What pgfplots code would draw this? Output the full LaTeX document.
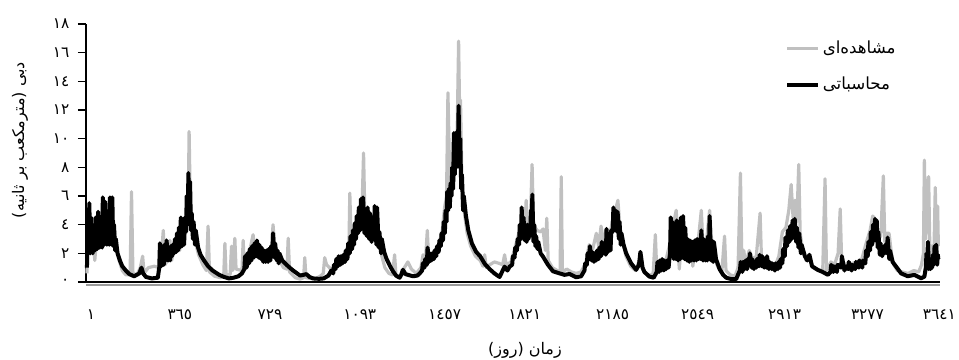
\documentclass[border=0pt]{standalone}
\usepackage{fontspec}
\usepackage{pgfplots}
\pgfplotsset{compat=1.18}
\TeXXeTstate=1
\setmainfont{DejaVu Sans}
\newfontfamily\arabicfont[Script=Arabic]{DejaVu Sans}
\definecolor{obsgray}{RGB}{192,192,192}

\begin{document}
\begin{tikzpicture}
\begin{axis}[
  at={(0,0)}, anchor=south west,
  scale only axis, width=640.5pt, height=193.5pt,
  xmin=-3, xmax=3600, ymin=0, ymax=18,
  enlargelimits=false,
  axis lines=left,
  axis line style={-, line width=1.1pt, black},
  x axis line style={line width=1.6pt},
  tick align=outside,
  major tick length=6pt,
  ytick={0,2,4,6,8,10,12,14,16,18},
  yticklabels={٠,٢,٤,٦,٨,١٠,١٢,١٤,١٦,١٨},
  xtick={18,393,773,1152,1510,1848,2219,2577,2944,3294,3597},
  xticklabels={١,٣٦٥,٧٢٩,١٠٩٣,١٤٥٧,١٨٢١,٢١٨٥,٢٥٤٩,٢٩١٣,٣٢٧٧,٣٦٤١},
  xtick style={draw=none},
  ytick style={line width=0.8pt, black},
  ticklabel style={font=\arabicfont\fontsize{11.5}{13}\selectfont},
  yticklabel style={xshift=-3pt},
  xticklabel style={yshift=-11pt},
  xlabel={\arabicfont\beginR زمان (روز)\endR},
  xlabel style={at={(axis description cs:0.514,0)}, anchor=center, yshift=-51pt, font=\fontsize{12}{14}\selectfont},
  ylabel={\arabicfont\beginR دبی (مترمکعب بر ثانیه)\endR},
  ylabel style={at={(axis description cs:0,0.55)}, anchor=center, yshift=49.5pt, font=\fontsize{12}{14}\selectfont},
  legend style={at={(0.814,0.955)}, anchor=north west, draw=none, fill=none,
    row sep=12pt, font=\arabicfont\fontsize{12.5}{14}\selectfont},
  legend cell align=left,
  legend image code/.code={\draw[#1] (0pt,0pt) -- (23pt,0pt);},
  clip=false,
]
\addplot[color=obsgray, line width=2.4pt, line join=round] coordinates {
(1,0.6) (6,3.2) (14,2.0) (24,3.6) (34,1.5) (44,3.4) (54,2.6) (64,4.3) (74,3.1) (84,4.6)
(94,3.6) (104,2.8) (114,4.2) (124,2.6) (135,1.6) (150,0.8) (165,0.5) (183,0.5) (189,6.3) (195,0.6)
(212,0.5) (226,1.0) (236,1.8) (242,0.6) (260,1.0) (285,1.1) (305,1.0) (316,2.0) (323,3.6) (330,1.2)
(345,1.6) (351,2.9) (358,1.5) (375,2.6) (392,2.2) (405,3.6) (418,3.4) (428,5.0) (432,10.5) (437,5.5)
(445,4.0) (458,2.8) (472,1.9) (490,1.2) (505,0.8) (512,3.9) (518,0.7) (540,0.4) (565,0.3) (578,0.4)
(583,2.7) (588,0.5) (605,0.5) (611,2.5) (616,0.8) (625,3.05) (630,0.9) (655,0.8) (660,2.9) (665,1.1)
(680,1.6) (702,3.3) (710,2.0) (730,2.2) (750,1.5) (765,1.8) (780,2.2) (786,4.0) (795,2.2) (810,1.6)
(830,1.0) (845,0.9) (850,3.05) (856,0.7) (880,0.3) (900,0.2) (915,0.3) (920,1.7) (925,0.3) (960,0.2)
(985,0.4) (998,0.6) (1004,1.7) (1012,1.2) (1030,0.9) (1055,1.1) (1080,1.6) (1100,2.0) (1106,2.2) (1110,6.2)
(1115,3.2) (1130,3.6) (1145,4.2) (1158,5.3) (1163,6.0) (1168,9.0) (1173,5.0) (1185,3.8) (1198,3.2) (1212,3.7)
(1222,4.8) (1232,2.9) (1245,1.8) (1258,1.0) (1275,0.6) (1290,0.5) (1299,1.9) (1305,0.4) (1320,0.3)
(1340,1.0) (1355,1.4) (1370,0.9) (1390,0.6) (1410,1.0) (1419,1.9) (1428,1.2) (1437,3.6) (1442,1.8) (1455,1.5)
(1470,2.0) (1485,2.6) (1500,3.6) (1510,5.2) (1518,6.0) (1524,13.2) (1530,8.5) (1536,6.0) (1542,9.0) (1548,7.0)
(1556,9.5) (1563,10.5) (1569,16.8) (1574,11.0) (1577,12.7) (1583,7.0) (1592,5.0) (1605,3.4) (1620,2.5) (1640,1.8)
(1660,1.5) (1672,1.1) (1679,1.9) (1686,1.0) (1700,1.2) (1720,1.4) (1740,1.3) (1755,1.2) (1763,1.9) (1770,1.2)
(1790,1.4) (1805,2.3) (1820,3.2) (1835,4.3) (1848,3.5) (1854,5.7) (1860,3.4) (1872,4.5) (1879,8.2) (1885,4.0)
(1900,3.6) (1915,3.5) (1925,3.7) (1935,2.2) (1941,4.45) (1947,1.5) (1965,1.0) (1985,0.8) (1997,0.6) (2002,7.35)
(2007,0.7) (2025,0.9) (2045,0.7) (2065,0.6) (2085,0.7) (2105,1.3) (2120,2.6) (2135,2.3) (2150,3.4) (2160,2.5)
(2170,3.9) (2180,2.8) (2192,3.6) (2205,3.0) (2220,4.5) (2235,5.3) (2241,5.7) (2250,3.8) (2262,2.8) (2275,1.8)
(2295,1.1) (2315,0.8) (2336,1.7) (2350,0.7) (2370,0.4) (2390,0.6) (2399,3.3) (2405,0.8) (2420,1.3) (2445,1.6)
(2462,2.8) (2475,4.0) (2487,5.0) (2493,3.2) (2500,0.9) (2508,2.5) (2515,4.0) (2525,3.0) (2540,2.6) (2550,2.9)
(2557,1.1) (2565,2.0) (2580,2.9) (2593,5.0) (2600,2.5) (2612,2.4) (2628,5.0) (2635,3.2) (2648,1.6) (2665,1.0)
(2680,0.8) (2691,3.2) (2697,0.8) (2715,0.5) (2735,0.4) (2748,1.0) (2758,7.6) (2764,1.5) (2772,2.2) (2780,1.2)
(2795,2.2) (2810,1.6) (2825,1.8) (2841,4.8) (2847,1.5) (2860,1.3) (2880,1.0) (2900,0.9) (2920,1.8) (2935,3.5)
(2950,3.8) (2962,5.0) (2972,6.8) (2980,4.5) (2988,5.7) (2996,4.2) (3004,8.2) (3010,3.4) (3020,2.3) (3035,1.5)
(3050,1.6) (3065,1.0) (3085,0.8) (3105,0.7) (3115,7.2) (3121,0.8) (3140,1.4) (3155,1.2) (3170,2.0) (3179,5.1)
(3185,1.5) (3200,1.2) (3215,1.0) (3230,1.3) (3250,1.4) (3270,1.6) (3290,2.8) (3305,3.6) (3316,4.6) (3326,4.4)
(3340,3.0) (3350,3.2) (3361,7.4) (3367,2.8) (3375,3.4) (3385,3.4) (3395,2.0) (3405,1.2) (3420,0.8) (3440,0.7)
(3465,0.6) (3490,0.8) (3510,0.7) (3522,1.2) (3530,2.0) (3534,8.5) (3540,3.0) (3546,6.5) (3552,7.35) (3558,1.5)
(3566,2.5) (3574,1.8) (3580,6.6) (3586,2.0) (3590,5.3) (3593,2.5)
};
\addlegendentry{\beginR مشاهده‌ای\endR}
\addplot[color=black, line width=3pt, line join=round] coordinates {
(1,1.0) (4,3.6) (8,2.2) (11,5.5) (15,2.0) (18,4.5) (25,2.0) (28,3.6) (35,2.2) (38,4.5) (45,2.3) (48,4.9)
(55,2.4) (58,4.5) (65,2.4) (68,5.9) (75,2.6) (78,5.6) (85,2.6) (88,4.5) (95,2.6) (98,5.9) (105,2.6) (108,5.9)
(112,2.5) (115,4.0) (120,2.2) (123,3.0)
(130,2.0) (140,1.5) (150,1.1) (165,0.8) (180,0.55) (200,0.4) (222,0.6) (231,1.0) (238,0.6) (250,0.35) (275,0.25) (300,0.3)
(306,1.0) (309,2.7) (315,1.1) (318,2.4) (325,1.2) (328,2.6) (334,1.5) (337,2.9) (343,1.5) (346,2.4) (352,1.5) (355,2.5)
(360,1.8) (363,2.6) (369,2.0) (372,3.0) (378,2.1) (381,3.4) (386,2.2) (389,3.8) (394,2.4) (397,4.5) (403,2.5) (406,4.2)
(411,2.6) (414,4.5) (419,3.5) (422,6.0) (426,4.0) (429,7.6) (433,4.5) (436,7.0) (440,3.6) (443,4.8) (448,3.0) (451,4.2)
(457,2.6) (460,3.6)
(470,2.4) (480,1.9) (495,1.5) (512,1.1) (531,0.8) (559,0.5) (580,0.35) (600,0.25) (620,0.3) (640,0.4) (655,0.6)
(665,0.9) (668,1.8) (675,1.0) (678,2.0) (685,1.3) (688,2.3) (695,1.5) (698,2.5) (705,1.7) (708,2.7) (715,1.8) (718,2.9)
(725,1.7) (728,2.6) (735,1.6) (738,2.4) (745,1.4) (748,2.2) (755,1.4) (758,2.2) (765,1.4) (768,2.3) (775,1.5) (778,2.5)
(783,1.8) (786,3.4) (792,1.7) (795,2.7) (802,1.5) (805,2.2) (810,1.3) (813,2.0)
(825,1.5) (843,1.2) (860,0.95) (871,0.8) (900,0.45) (915,0.5) (927,0.55) (940,0.35) (955,0.25) (980,0.22) (1000,0.25) (1020,0.45) (1032,0.8)
(1040,0.6) (1043,1.2) (1050,0.9) (1053,1.6) (1060,1.1) (1063,1.8) (1070,1.2) (1073,1.8) (1080,1.3) (1083,1.9) (1090,1.4) (1093,2.2)
(1100,1.6) (1103,2.7) (1110,2.0) (1113,3.2) (1120,2.3) (1123,3.6) (1128,2.6) (1131,4.1) (1136,3.0) (1139,4.6) (1145,3.4) (1148,5.2)
(1154,3.6) (1157,5.8) (1163,3.8) (1166,5.9) (1172,3.4) (1175,4.5) (1182,3.2) (1185,5.2) (1192,3.0) (1195,4.8) (1202,2.8) (1205,4.0)
(1212,3.0) (1215,5.3) (1222,2.6) (1225,5.2) (1232,2.4) (1235,3.5) (1242,2.0) (1245,3.0)
(1255,2.1) (1264,1.65) (1280,1.1) (1292,0.75) (1305,0.45) (1320,0.3) (1327,0.5) (1334,0.85) (1345,0.55) (1355,0.5) (1377,0.4) (1395,0.45) (1405,0.6)
(1415,0.8) (1418,1.3) (1425,1.0) (1428,1.6) (1435,1.2) (1438,2.4) (1445,1.4) (1448,2.0) (1455,1.5) (1458,2.0) (1465,1.6) (1468,2.2)
(1475,1.8) (1478,2.5) (1485,2.1) (1488,2.9) (1494,2.5) (1497,3.4) (1503,2.9) (1506,4.2) (1511,3.4) (1514,5.0) (1518,4.2) (1521,6.3)
(1525,5.0) (1528,6.5) (1532,5.2) (1535,6.9) (1539,6.0) (1542,8.0) (1546,6.5) (1549,10.4) (1553,7.5) (1556,9.0) (1560,8.0) (1563,10.5)
(1566,9.0) (1569,12.3) (1573,8.0) (1576,10.0) (1580,6.5) (1583,7.5) (1588,5.0) (1591,6.0)
(1600,4.6) (1610,3.6) (1625,2.7) (1643,2.1) (1660,1.8) (1680,1.25) (1700,0.9) (1720,0.6) (1742,0.35) (1755,0.8) (1763,1.07) (1775,0.8) (1784,1.07)
(1795,1.2) (1798,1.8) (1805,1.7) (1808,2.4) (1815,2.2) (1818,3.0) (1824,2.6) (1827,4.0) (1832,3.0) (1835,5.2) (1840,3.2) (1843,4.5)
(1848,2.9) (1851,3.8) (1856,2.8) (1859,4.0) (1864,3.0) (1867,4.0) (1871,3.2) (1874,5.0) (1877,3.5) (1880,6.1) (1885,2.8) (1888,4.0)
(1893,2.5) (1896,3.2) (1902,2.3) (1905,2.8)
(1915,2.0) (1924,1.8) (1946,1.2) (1967,0.75) (1995,0.6) (2016,0.5) (2037,0.56) (2065,0.33) (2086,0.4)
(2100,0.8) (2103,1.3) (2110,1.2) (2113,2.0) (2120,1.6) (2123,2.5) (2130,1.5) (2133,2.1) (2140,1.4) (2143,2.0) (2150,1.5) (2153,2.2)
(2160,1.6) (2163,2.4) (2170,1.8) (2173,2.8) (2180,2.0) (2183,2.7) (2190,1.9) (2193,3.7) (2200,2.1) (2203,3.0) (2210,2.2) (2213,3.6)
(2219,3.5) (2222,5.2) (2228,3.8) (2231,5.0) (2237,3.5) (2240,4.9) (2245,3.0) (2248,4.2) (2253,2.6) (2256,3.4)
(2265,2.6) (2276,2.0) (2297,1.3) (2318,0.85) (2330,1.2) (2336,2.1) (2345,1.0) (2353,0.7) (2374,0.38) (2392,0.3)
(2405,0.7) (2408,1.4) (2415,0.7) (2418,1.5) (2425,0.8) (2428,1.6) (2435,0.8) (2438,1.5) (2445,0.9) (2448,1.5) (2455,1.0) (2458,1.6)
(2461,2.0) (2464,4.5) (2468,1.8) (2471,4.2) (2477,1.6) (2480,4.0) (2486,1.6) (2489,4.3) (2495,1.5) (2498,4.2) (2504,1.6) (2507,4.5)
(2513,1.7) (2516,4.6) (2522,1.6) (2525,3.8) (2532,1.5) (2535,3.0) (2542,1.4) (2545,2.9) (2552,1.5) (2555,2.8) (2562,1.5) (2565,2.9)
(2572,1.5) (2575,3.0) (2582,1.6) (2585,3.0) (2590,1.6) (2593,3.6) (2600,1.5) (2603,3.0) (2610,1.5) (2613,2.9) (2618,1.5) (2621,3.2)
(2625,1.6) (2628,4.6) (2634,1.5) (2637,2.9) (2643,1.4) (2646,2.8)
(2655,1.6) (2670,0.9) (2685,0.5) (2698,0.3) (2720,0.2) (2740,0.2) (2750,0.6)
(2756,0.8) (2759,1.4) (2766,0.7) (2769,1.4) (2776,0.9) (2779,1.5) (2786,0.9) (2789,1.6) (2795,1.2) (2798,2.0) (2805,1.0) (2808,1.6)
(2815,0.9) (2818,1.4) (2825,1.0) (2828,1.6) (2836,1.1) (2839,1.9) (2847,1.1) (2850,1.8) (2858,1.0) (2861,1.6) (2867,1.0) (2870,1.8)
(2878,0.9) (2881,1.4) (2890,0.9) (2893,1.3) (2903,0.8) (2906,1.3) (2916,0.9) (2919,1.4) (2925,1.0) (2928,1.6)
(2935,1.3) (2938,2.3) (2945,1.8) (2948,3.1) (2955,2.5) (2958,3.6) (2965,2.8) (2968,3.9) (2975,3.0) (2978,4.3) (2984,3.2) (2987,4.4)
(2993,2.8) (2996,3.8) (3003,2.4) (3006,3.4) (3013,2.0) (3016,2.6)
(3030,1.8) (3040,1.5) (3049,1.9) (3060,1.1) (3084,0.85) (3105,0.7) (3127,0.5)
(3138,0.7) (3141,1.2) (3150,0.7) (3153,1.1) (3165,0.7) (3168,1.2) (3183,1.0) (3186,1.8) (3197,0.8) (3200,1.1) (3212,0.9) (3215,1.4)
(3227,0.8) (3230,1.2) (3242,0.9) (3245,1.4) (3257,1.0) (3260,1.5) (3272,1.0) (3275,1.5)
(3285,1.3) (3288,2.2) (3295,1.8) (3298,2.8) (3305,2.2) (3308,3.5) (3314,2.6) (3317,4.0) (3323,2.9) (3326,4.4) (3330,3.0) (3333,4.3)
(3337,2.4) (3340,3.5) (3346,1.9) (3349,2.7) (3356,1.8) (3359,2.2) (3366,2.0) (3369,2.6) (3376,2.0) (3379,3.1) (3386,1.6) (3389,2.2)
(3400,1.4) (3415,1.07) (3436,0.6) (3464,0.4) (3492,0.5) (3520,0.26) (3534,0.37)
(3540,1.0) (3543,2.0) (3546,1.2) (3549,2.8) (3553,0.9) (3556,1.5) (3560,0.9) (3563,1.3) (3567,1.0) (3570,1.9) (3574,1.2) (3577,2.5)
(3581,1.3) (3584,2.6) (3588,1.2) (3591,1.9) (3593,1.6)
};
\addlegendentry{\beginR محاسباتی\endR}
\draw[color=obsgray!80!black, line width=1.5pt] ([yshift=-1.9pt]rel axis cs:0,0) -- ([yshift=-1.9pt]rel axis cs:1,0);
\end{axis}
\pgfresetboundingbox
\path[use as bounding box] (-64.5pt,-58.5pt) rectangle (654.75pt,211.5pt);
\end{tikzpicture}
\end{document}
